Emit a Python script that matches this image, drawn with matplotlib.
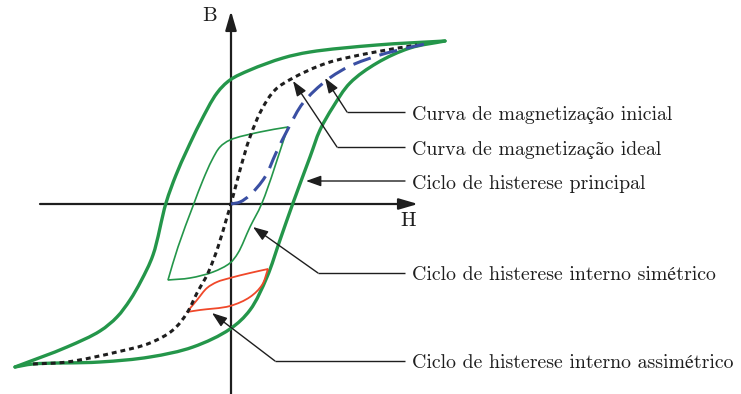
import numpy as np
import matplotlib
matplotlib.use("Agg")
import matplotlib.pyplot as plt
from matplotlib.path import Path
from matplotlib.patches import PathPatch, FancyArrowPatch

plt.rcParams['font.family'] = ['cmr10', 'STIXGeneral']
plt.rcParams['axes.unicode_minus'] = False

# Principal hysteresis loop (H, B)
main_upper_H = [4.28, 2.92, 1.58, 1.04, 0.38, -0.02, -0.28, -0.62, -0.88, -1.10, -1.30, -1.56, -1.80, -2.02, -2.28, -2.62, -3.28, -4.32]
main_upper_B = [3.26, 3.18, 3.04, 2.92, 2.68, 2.48, 2.22, 1.62, 1.08, 0.58, 0.02, -1.02, -1.54, -1.92, -2.26, -2.54, -2.86, -3.26]
main_lower_H = [-4.32, -3.96, -2.62, -1.62, -0.76, -0.02, 0.38, 0.72, 0.98, 1.24, 1.58, 1.78, 2.04, 2.38, 2.92, 3.58, 4.28]
main_lower_B = [-3.26, -3.20, -3.16, -3.06, -2.86, -2.50, -2.12, -1.46, -0.72, 0.02, 0.94, 1.48, 1.94, 2.42, 2.82, 3.12, 3.26]

# Ideal (anhysteretic) magnetization curve
ideal_H = [-3.96, -3.28, -2.28, -1.62, -1.16, -0.88, -0.68, -0.46, -0.26, -0.08, 0.00, 0.18, 0.38, 0.62, 0.88, 1.24, 1.92, 2.78, 3.72]
ideal_B = [-3.20, -3.16, -2.96, -2.78, -2.52, -2.18, -1.78, -1.38, -0.86, -0.26, 0.00, 0.68, 1.34, 1.90, 2.28, 2.52, 2.82, 3.02, 3.18]

# Initial magnetization curve
initial_H = [0.00, 0.18, 0.38, 0.68, 0.90, 1.16, 1.44, 1.92, 2.38, 2.98, 3.52, 3.98]
initial_B = [0.00, 0.04, 0.18, 0.54, 1.02, 1.54, 2.02, 2.48, 2.76, 2.98, 3.12, 3.22]

# Inner symmetric minor loop
sym_H = [1.14, 0.58, -0.02, -0.22, -0.38, -0.56, -0.76, -1.06, -1.26, -0.82, -0.36, -0.02, 0.14, 0.38, 0.62, 1.14]
sym_B = [1.54, 1.44, 1.28, 1.14, 0.88, 0.48, -0.04, -0.86, -1.52, -1.48, -1.36, -1.18, -0.98, -0.46, 0.02, 1.54]

# Inner asymmetric minor loop
asym_H = [0.74, 0.38, -0.02, -0.28, -0.48, -0.68, -0.88, -0.62, -0.02, 0.38, 0.62, 0.74]
asym_B = [-1.30, -1.38, -1.48, -1.56, -1.68, -1.92, -2.16, -2.12, -2.04, -1.86, -1.62, -1.30]

labels = [
    "Curva de magnetização inicial",
    "Curva de magnetização ideal",
    "Ciclo de histerese principal",
    "Ciclo de histerese interno simétrico",
    "Ciclo de histerese interno assimétrico",
]

GREEN = "#24964a"
BLUE = "#3a4fa3"
RED = "#f0482a"
DARK = "#1e1e1e"


def smooth_path(xs, ys, sharp=(), alpha=0.5):
    """Centripetal Catmull-Rom through the points, as cubic Bezier segments.
    Indices in `sharp` are corners where the tangent is not carried over."""
    p = np.column_stack([xs, ys]).astype(float)
    n = len(p)
    verts = [p[0]]
    codes = [Path.MOVETO]
    for i in range(n - 1):
        p1, p2 = p[i], p[i + 1]
        p0 = p[i - 1] if (i > 0 and i not in sharp) else 2 * p1 - p2
        p3 = p[i + 2] if (i + 2 < n and (i + 1) not in sharp) else 2 * p2 - p1
        d01 = max(np.linalg.norm(p1 - p0) ** alpha, 1e-6)
        d12 = max(np.linalg.norm(p2 - p1) ** alpha, 1e-6)
        d23 = max(np.linalg.norm(p3 - p2) ** alpha, 1e-6)
        m1 = d12 * ((p1 - p0) / d01 - (p2 - p0) / (d01 + d12) + (p2 - p1) / d12)
        m2 = d12 * ((p2 - p1) / d12 - (p3 - p1) / (d12 + d23) + (p3 - p2) / d23)
        verts += [p1 + m1 / 3.0, p2 - m2 / 3.0, p2]
        codes += [Path.CURVE4] * 3
    return Path(verts, codes)


fig = plt.figure(figsize=(7.41, 3.94), dpi=100)
ax = fig.add_axes([0, 0, 1, 1])
ax.set_xlim(-4.62, 10.2)
ax.set_ylim(-3.8, 4.08)
ax.axis("off")

# coordinate axes with arrow heads
axis_head = "-|>,head_length=7.2,head_width=2.1"
ax.add_patch(FancyArrowPatch((-3.82, 0), (3.74, 0), arrowstyle=axis_head,
                             mutation_scale=1.6, color=DARK, lw=1.6, shrinkA=0, shrinkB=0, zorder=1))
ax.add_patch(FancyArrowPatch((0, -3.8), (0, 3.86), arrowstyle=axis_head,
                             mutation_scale=1.6, color=DARK, lw=1.6, shrinkA=0, shrinkB=0, zorder=1))
ax.text(-0.42, 3.76, "B", fontsize=15, ha="center", va="center", color=DARK)
ax.text(3.54, -0.34, "H", fontsize=15, ha="center", va="center", color=DARK)


def draw(xs, ys, sharp=(), **kw):
    ax.add_patch(PathPatch(smooth_path(xs, ys, sharp), fill=False, **kw))


draw(main_upper_H, main_upper_B, color=GREEN, lw=2.4, zorder=3, capstyle="round")
draw(main_lower_H, main_lower_B, color=GREEN, lw=2.4, zorder=3, capstyle="round")
draw(sym_H, sym_B, sharp=(0, 8, 15), color=GREEN, lw=1.2, zorder=3)
draw(asym_H, asym_B, sharp=(0, 6, 11), color=RED, lw=1.3, zorder=3)
draw(ideal_H, ideal_B, color=DARK, lw=2.2, linestyle=(0, (1.6, 1.3)), zorder=4)
draw(initial_H, initial_B, color=BLUE, lw=2.2, linestyle=(0, (6, 3)), zorder=4)

# callouts: text, start of leader, knee, arrow target
text_x = 3.62
line_x = 3.48
text_y = [1.84, 1.14, 0.46, -1.38, -3.14]
knees = [(2.32, 1.84), (2.12, 1.14), None, (1.74, -1.38), (0.88, -3.14)]
targets = [(1.88, 2.52), (1.24, 2.46), (1.50, 0.46), (0.44, -0.46), (-0.38, -2.18)]

for lab, y, knee, tgt in zip(labels, text_y, knees, targets):
    ax.text(text_x, y - 0.05, lab, fontsize=14.3, ha="left", va="center", color=DARK)
    start = (line_x, y)
    if knee is not None:
        ax.plot([start[0], knee[0]], [start[1], knee[1]], color=DARK, lw=1.0, solid_capstyle="butt")
        start = knee
    ax.add_patch(FancyArrowPatch(start, tgt, arrowstyle="-|>,head_length=7,head_width=2.5",
                                 mutation_scale=1.3, color=DARK, lw=1.0, shrinkA=0, shrinkB=0, zorder=5))

fig.savefig("out.png", dpi=100)
